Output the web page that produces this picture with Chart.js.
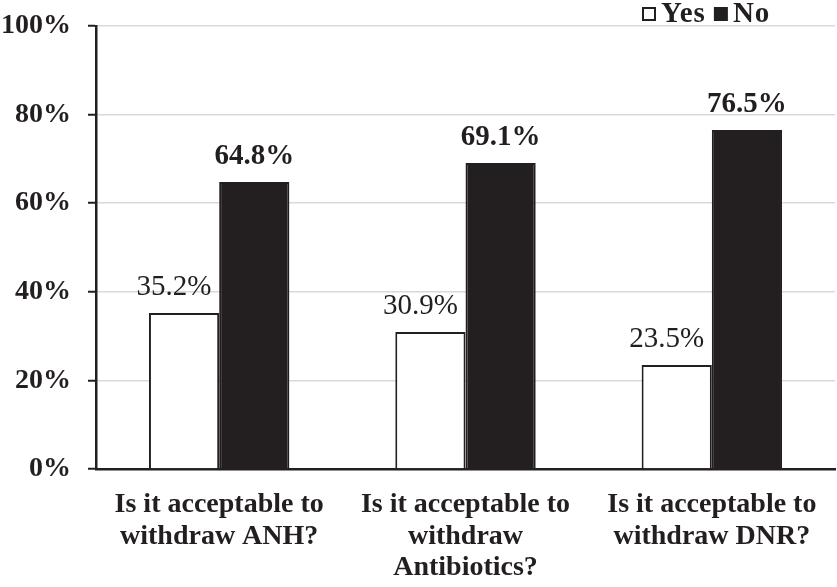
<!DOCTYPE html>
<html>
<head>
<meta charset="utf-8">
<script src="https://cdn.jsdelivr.net/npm/chart.js@4/dist/chart.umd.min.js"></script>
<style>
  html, body { margin: 0; padding: 0; background: #fff; }
  #wrap { width: 837px; height: 587px; position: relative; }
</style>
</head>
<body>
<div id="wrap"><canvas id="chart"></canvas></div>
<script>
// Chart data
const categories = [
    ['Is it acceptable to', 'withdraw ANH?'],
    ['Is it acceptable to', 'withdraw', 'Antibiotics?'],
    ['Is it acceptable to', 'withdraw DNR?']
];
const seriesNames = ['Yes', 'No'];
const yesValues = [35.2, 30.9, 23.5];
const noValues = [64.8, 69.1, 76.5];
const yTicks = [0, 20, 40, 60, 80, 100];

const ink = '#231f20';
const fontFamily = '"Liberation Serif", "Times New Roman", serif';

// Draws the value above each bar (Yes in regular weight, No in bold)
const valueLabels = {
    id: 'valueLabels',
    afterDatasetsDraw(chart) {
        const ctx = chart.ctx;
        ctx.save();
        ctx.fillStyle = ink;
        ctx.textAlign = 'center';
        ctx.textBaseline = 'alphabetic';
        chart.data.datasets.forEach((ds, di) => {
            const meta = chart.getDatasetMeta(di);
            ctx.font = (di === 0 ? 'normal ' : 'bold ') + '29px ' + fontFamily;
            meta.data.forEach((bar, i) => {
                const shift = di === 0 ? -10 : 0;
                ctx.fillText(ds.data[i].toFixed(1) + '%', bar.x + shift, bar.y - 18);
            });
        });
        ctx.restore();
    }
};

// Small legend in the top right corner, above the 100% line
const topLegend = {
    id: 'topLegend',
    afterDraw(chart) {
        const ctx = chart.ctx;
        let x = 643;
        ctx.save();
        ctx.font = 'bold 29px ' + fontFamily;
        ctx.letterSpacing = '1px';
        ctx.textBaseline = 'alphabetic';
        ctx.textAlign = 'left';
        chart.data.datasets.forEach((ds) => {
            ctx.fillStyle = ds.backgroundColor;
            ctx.fillRect(x, 8, 12, 12);
            ctx.strokeStyle = ds.borderColor;
            ctx.lineWidth = 2;
            ctx.strokeRect(x, 8, 12, 12);
            ctx.fillStyle = ink;
            ctx.fillText(ds.label, x + 18, 22);
            x += 18 + ctx.measureText(ds.label).width + 9;
        });
        ctx.restore();
    }
};

new Chart(document.getElementById('chart'), {
    type: 'bar',
    data: {
        labels: categories,
        datasets: [
            {
                label: seriesNames[0],
                data: yesValues,
                backgroundColor: '#ffffff',
                borderColor: ink,
                borderWidth: 2,
                borderSkipped: 'bottom'
            },
            {
                label: seriesNames[1],
                data: noValues,
                backgroundColor: ink,
                borderColor: ink,
                borderWidth: 2,
                borderSkipped: 'bottom'
            }
        ]
    },
    options: {
        responsive: true,
        maintainAspectRatio: false,
        animation: false,
        layout: { padding: { left: 2, right: 2, top: 26, bottom: 0 } },
        datasets: {
            bar: { barPercentage: 1, categoryPercentage: 0.57 }
        },
        plugins: {
            tooltip: { enabled: false },
            legend: { display: false }
        },
        scales: {
            x: {
                grid: { display: false },
                border: { display: true, color: ink, width: 2.5 },
                afterFit(axis) {
                    axis.height = 118;
                },
                ticks: {
                    color: ink,
                    padding: 12,
                    maxRotation: 0,
                    autoSkip: false,
                    font: { family: fontFamily, size: 28, weight: 'bold', lineHeight: 1.13 }
                }
            },
            y: {
                min: 0,
                max: 100,
                afterBuildTicks(axis) {
                    axis.ticks = yTicks.map(v => ({ value: v }));
                },
                afterFit(axis) {
                    axis.width = 94;
                    axis.paddingTop = 0;
                    axis.paddingBottom = 0;
                },
                grid: {
                    color: '#d9d9d9',
                    lineWidth: 1.5,
                    tickColor: ink,
                    tickLength: 8,
                    tickWidth: 2
                },
                border: { display: true, color: ink, width: 2.5 },
                ticks: {
                    color: ink,
                    padding: 17,
                    callback: v => v + '%',
                    font: { family: fontFamily, size: 28, weight: 'bold' }
                }
            }
        }
    },
    plugins: [valueLabels, topLegend]
});
</script>
</body>
</html>
